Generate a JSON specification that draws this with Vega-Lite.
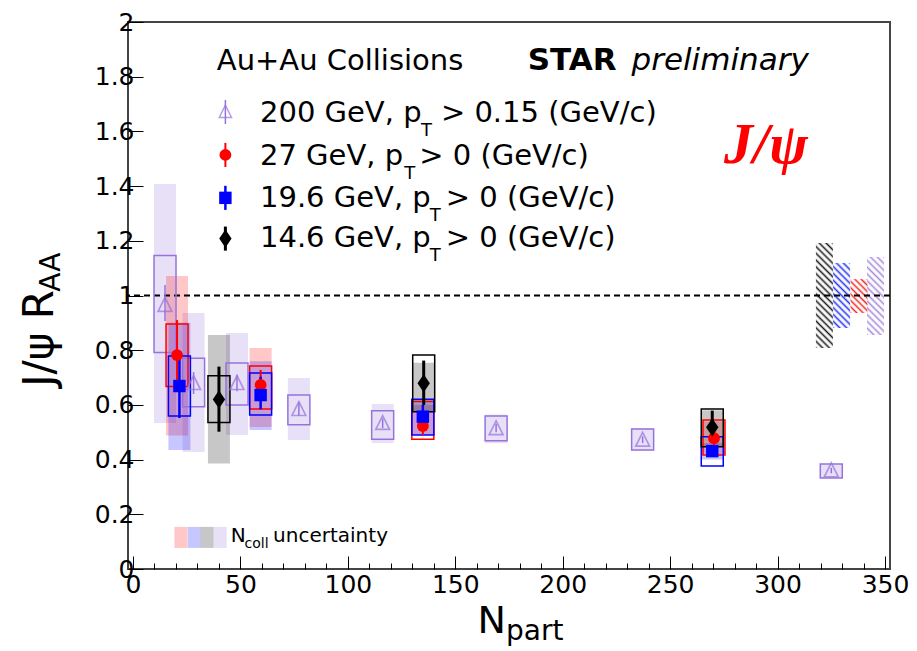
{
 "$schema": "https://vega.github.io/schema/vega-lite/v6.json",
 "width": 762, "height": 547,
 "autosize": {"type": "none"},
 "padding": {"left": 128, "top": 22, "right": 27, "bottom": 82},
 "background": "white",
 "config": {"view": {"stroke": "#444", "strokeWidth": 2}, "font": "DejaVu Sans", "axis": {"labelOverlap": false, "labelBound": false, "labelFlush": false}},
 "resolve": {"axis": {"x": "independent"}},
 "datasets": {
  "pts": [
   {"s":"200","x":14.9,"y":0.965,"elo":0.907,"ehi":1.038,"slo":0.792,"shi":1.146,"nlo":0.534,"nhi":1.408},
   {"s":"200","x":28.2,"y":0.679,"elo":0.64,"ehi":0.72,"slo":0.593,"shi":0.771,"nlo":0.428,"nhi":0.936},
   {"s":"200","x":48.4,"y":0.679,"elo":0.65,"ehi":0.71,"slo":0.6,"shi":0.753,"nlo":0.49,"nhi":0.863},
   {"s":"200","x":77.2,"y":0.584,"elo":0.56,"ehi":0.61,"slo":0.527,"shi":0.636,"nlo":0.472,"nhi":0.698},
   {"s":"200","x":116.2,"y":0.533,"elo":0.515,"ehi":0.55,"slo":0.474,"shi":0.579,"nlo":0.461,"nhi":0.603},
   {"s":"200","x":169.0,"y":0.514,"elo":0.5,"ehi":0.53,"slo":0.469,"shi":0.559,"nlo":0.46,"nhi":0.565},
   {"s":"200","x":237.2,"y":0.472,"elo":0.46,"ehi":0.485,"slo":0.435,"shi":0.512,"nlo":0.432,"nhi":0.515},
   {"s":"200","x":325.0,"y":0.36,"elo":0.35,"ehi":0.37,"slo":0.333,"shi":0.384,"nlo":0.333,"nhi":0.384},
   {"s":"27","x":20.5,"y":0.782,"elo":0.65,"ehi":0.91,"slo":0.667,"shi":0.896,"nlo":0.488,"nhi":1.071},
   {"s":"27","x":59.4,"y":0.673,"elo":0.62,"ehi":0.728,"slo":0.585,"shi":0.742,"nlo":0.519,"nhi":0.808},
   {"s":"27","x":134.9,"y":0.523,"elo":0.49,"ehi":0.56,"slo":0.474,"shi":0.612,"nlo":0.49,"nhi":0.6},
   {"s":"27","x":270.4,"y":0.478,"elo":0.45,"ehi":0.51,"slo":0.417,"shi":0.545,"nlo":0.42,"nhi":0.54},
   {"s":"19.6","x":21.6,"y":0.669,"elo":0.552,"ehi":0.782,"slo":0.559,"shi":0.779,"nlo":0.435,"nhi":0.9},
   {"s":"19.6","x":59.4,"y":0.636,"elo":0.584,"ehi":0.703,"slo":0.563,"shi":0.717,"nlo":0.508,"nhi":0.76},
   {"s":"19.6","x":134.9,"y":0.557,"elo":0.52,"ehi":0.6,"slo":0.49,"shi":0.621,"nlo":0.49,"nhi":0.62},
   {"s":"19.6","x":269.6,"y":0.431,"elo":0.41,"ehi":0.45,"slo":0.377,"shi":0.484,"nlo":0.4,"nhi":0.46},
   {"s":"14.6","x":40.0,"y":0.62,"elo":0.502,"ehi":0.74,"slo":0.536,"shi":0.707,"nlo":0.386,"nhi":0.856},
   {"s":"14.6","x":135.3,"y":0.679,"elo":0.6,"ehi":0.762,"slo":0.575,"shi":0.782,"nlo":0.575,"nhi":0.754},
   {"s":"14.6","x":269.6,"y":0.518,"elo":0.484,"ehi":0.579,"slo":0.447,"shi":0.585,"nlo":0.45,"nhi":0.58}
  ],
  "glob": [
   {"s":"14.6","x":321.8,"lo":0.808,"hi":1.192},
   {"s":"19.6","x":329.8,"lo":0.881,"hi":1.119},
   {"s":"27","x":337.9,"lo":0.936,"hi":1.06},
   {"s":"200","x":345.6,"lo":0.856,"hi":1.141}
  ],
  "leg": [
   {"s":"200","x":43.0,"y":1.671,"elo":1.627,"ehi":1.715},
   {"s":"27","x":43.0,"y":1.514,"elo":1.47,"ehi":1.558},
   {"s":"19.6","x":43.0,"y":1.357,"elo":1.313,"ehi":1.401},
   {"s":"14.6","x":43.0,"y":1.208,"elo":1.164,"ehi":1.252}
  ],
  "sw": [
   {"s":"27","x":22.3,"lo":0.077,"hi":0.154},
   {"s":"19.6","x":28.5,"lo":0.077,"hi":0.154},
   {"s":"14.6","x":34.5,"lo":0.077,"hi":0.154},
   {"s":"200","x":40.6,"lo":0.077,"hi":0.154}
  ]
 },
 "layer": [
  {
   "data": {"name": "pts"},
   "mark": {"type": "bar", "width": 22, "opacity": 0.22},
   "encoding": {
    "x": {"field": "x", "type": "quantitative",
     "scale": {"domain": [0, 350], "nice": false, "zero": false},
     "axis": {"orient": "bottom", "values": [0,50,100,150,200,250,300,350], "format": "d",
      "tickSize": -13, "tickColor": "black", "tickWidth": 1, "domain": false, "grid": false, "title": null,
      "labelFont": "DejaVu Sans", "labelFontSize": 25, "labelColor": "black", "labelPadding": 16,
      "labelOverlap": false, "labelFlush": false, "labelBound": false}},
    "y": {"field": "nlo", "type": "quantitative",
     "scale": {"domain": [0, 2], "nice": false, "zero": false},
     "axis": {"values": [0,0.05,0.1,0.15,0.2,0.25,0.3,0.35,0.4,0.45,0.5,0.55,0.6,0.65,0.7,0.75,0.8,0.85,0.9,0.95,1,1.05,1.1,1.15,1.2,1.25,1.3,1.35,1.4,1.45,1.5,1.55,1.6,1.65,1.7,1.75,1.8,1.85,1.9,1.95,2],
      "labelExpr": "abs(datum.value*5-round(datum.value*5))<0.001 ? format(datum.value, '~g') : ''",
      "tickSize": {"condition": {"test": "abs(datum.value*5-round(datum.value*5))<0.001", "value": -15}, "value": -7},
      "tickColor": "black", "tickWidth": 1, "domain": false, "grid": false, "title": null,
      "labelFont": "DejaVu Sans", "labelFontSize": 25, "labelColor": "black", "labelPadding": 9,
      "labelOverlap": false, "labelFlush": false, "labelBound": false}},
    "y2": {"field": "nhi"},
    "color": {"field": "s", "type": "nominal", "scale": {"domain": ["200","27","19.6","14.6"], "range": ["#9673dc","#ff0000","#0000ff","#000000"]}, "legend": null}
   }
  },
  {
   "data": {"name": "pts"},
   "mark": {"type": "point", "opacity": 0},
   "encoding": {
    "x": {"field": "x", "type": "quantitative",
     "axis": {"orient": "bottom", "values": [10,20,30,40,60,70,80,90,110,120,130,140,160,170,180,190,210,220,230,240,260,270,280,290,310,320,330,340],
      "labels": false, "tickSize": -6, "tickColor": "black", "tickWidth": 1, "domain": false, "grid": false, "title": null}},
    "y": {"field": "y", "type": "quantitative"}
   }
  },
  {
   "data": {"name": "sw"},
   "mark": {"type": "bar", "width": 13, "opacity": 0.22},
   "encoding": {
    "x": {"field": "x", "type": "quantitative", "axis": null},
    "y": {"field": "lo", "type": "quantitative"},
    "y2": {"field": "hi"},
    "color": {"field": "s", "type": "nominal", "legend": null}
   }
  },
  {
   "data": {"name": "glob"},
   "transform": [{"filter": "datum.s === '14.6'"}],
   "mark": {"type": "bar", "width": 17, "fill": {"gradient": "linear", "x1": 0, "y1": 1, "x2": 0.183, "y2": -0.131, "stops": [
    {"offset":0,"color":"#1a1a1a"},{"offset":0.0278,"color":"rgba(255,255,255,0)"},{"offset":0.0556,"color":"#1a1a1a"},{"offset":0.0833,"color":"rgba(255,255,255,0)"},{"offset":0.1111,"color":"#1a1a1a"},{"offset":0.1389,"color":"rgba(255,255,255,0)"},{"offset":0.1667,"color":"#1a1a1a"},{"offset":0.1944,"color":"rgba(255,255,255,0)"},{"offset":0.2222,"color":"#1a1a1a"},{"offset":0.25,"color":"rgba(255,255,255,0)"},{"offset":0.2778,"color":"#1a1a1a"},{"offset":0.3056,"color":"rgba(255,255,255,0)"},{"offset":0.3333,"color":"#1a1a1a"},{"offset":0.3611,"color":"rgba(255,255,255,0)"},{"offset":0.3889,"color":"#1a1a1a"},{"offset":0.4167,"color":"rgba(255,255,255,0)"},{"offset":0.4444,"color":"#1a1a1a"},{"offset":0.4722,"color":"rgba(255,255,255,0)"},{"offset":0.5,"color":"#1a1a1a"},{"offset":0.5278,"color":"rgba(255,255,255,0)"},{"offset":0.5556,"color":"#1a1a1a"},{"offset":0.5833,"color":"rgba(255,255,255,0)"},{"offset":0.6111,"color":"#1a1a1a"},{"offset":0.6389,"color":"rgba(255,255,255,0)"},{"offset":0.6667,"color":"#1a1a1a"},{"offset":0.6944,"color":"rgba(255,255,255,0)"},{"offset":0.7222,"color":"#1a1a1a"},{"offset":0.75,"color":"rgba(255,255,255,0)"},{"offset":0.7778,"color":"#1a1a1a"},{"offset":0.8056,"color":"rgba(255,255,255,0)"},{"offset":0.8333,"color":"#1a1a1a"},{"offset":0.8611,"color":"rgba(255,255,255,0)"},{"offset":0.8889,"color":"#1a1a1a"},{"offset":0.9167,"color":"rgba(255,255,255,0)"},{"offset":0.9444,"color":"#1a1a1a"},{"offset":0.9722,"color":"rgba(255,255,255,0)"},{"offset":1,"color":"#1a1a1a"}]}},
   "encoding": {"x": {"field": "x", "type": "quantitative", "axis": null}, "y": {"field": "lo", "type": "quantitative"}, "y2": {"field": "hi"}}
  },
  {
   "data": {"name": "glob"},
   "transform": [{"filter": "datum.s === '19.6'"}],
   "mark": {"type": "bar", "width": 17, "fill": {"gradient": "linear", "x1": 0, "y1": 1, "x2": 0.309, "y2": -0.181, "stops": [
    {"offset":0,"color":"#2233ee"},{"offset":0.0417,"color":"rgba(255,255,255,0)"},{"offset":0.0833,"color":"#2233ee"},{"offset":0.125,"color":"rgba(255,255,255,0)"},{"offset":0.1667,"color":"#2233ee"},{"offset":0.2083,"color":"rgba(255,255,255,0)"},{"offset":0.25,"color":"#2233ee"},{"offset":0.2917,"color":"rgba(255,255,255,0)"},{"offset":0.3333,"color":"#2233ee"},{"offset":0.375,"color":"rgba(255,255,255,0)"},{"offset":0.4167,"color":"#2233ee"},{"offset":0.4583,"color":"rgba(255,255,255,0)"},{"offset":0.5,"color":"#2233ee"},{"offset":0.5417,"color":"rgba(255,255,255,0)"},{"offset":0.5833,"color":"#2233ee"},{"offset":0.625,"color":"rgba(255,255,255,0)"},{"offset":0.6667,"color":"#2233ee"},{"offset":0.7083,"color":"rgba(255,255,255,0)"},{"offset":0.75,"color":"#2233ee"},{"offset":0.7917,"color":"rgba(255,255,255,0)"},{"offset":0.8333,"color":"#2233ee"},{"offset":0.875,"color":"rgba(255,255,255,0)"},{"offset":0.9167,"color":"#2233ee"},{"offset":0.9583,"color":"rgba(255,255,255,0)"},{"offset":1,"color":"#2233ee"}]}},
   "encoding": {"x": {"field": "x", "type": "quantitative", "axis": null}, "y": {"field": "lo", "type": "quantitative"}, "y2": {"field": "hi"}}
  },
  {
   "data": {"name": "glob"},
   "transform": [{"filter": "datum.s === '27'"}],
   "mark": {"type": "bar", "width": 17, "fill": {"gradient": "linear", "x1": 0, "y1": 1, "x2": 0.6, "y2": -0.2, "stops": [
    {"offset":0,"color":"#ee2222"},{"offset":0.0625,"color":"rgba(255,255,255,0)"},{"offset":0.125,"color":"#ee2222"},{"offset":0.1875,"color":"rgba(255,255,255,0)"},{"offset":0.25,"color":"#ee2222"},{"offset":0.3125,"color":"rgba(255,255,255,0)"},{"offset":0.375,"color":"#ee2222"},{"offset":0.4375,"color":"rgba(255,255,255,0)"},{"offset":0.5,"color":"#ee2222"},{"offset":0.5625,"color":"rgba(255,255,255,0)"},{"offset":0.625,"color":"#ee2222"},{"offset":0.6875,"color":"rgba(255,255,255,0)"},{"offset":0.75,"color":"#ee2222"},{"offset":0.8125,"color":"rgba(255,255,255,0)"},{"offset":0.875,"color":"#ee2222"},{"offset":0.9375,"color":"rgba(255,255,255,0)"},{"offset":1,"color":"#ee2222"}]}},
   "encoding": {"x": {"field": "x", "type": "quantitative", "axis": null}, "y": {"field": "lo", "type": "quantitative"}, "y2": {"field": "hi"}}
  },
  {
   "data": {"name": "glob"},
   "transform": [{"filter": "datum.s === '200'"}],
   "mark": {"type": "bar", "width": 17, "fill": {"gradient": "linear", "x1": 0, "y1": 1, "x2": 0.253, "y2": -0.163, "stops": [
    {"offset":0,"color":"#a68ad9"},{"offset":0.0357,"color":"rgba(255,255,255,0)"},{"offset":0.0714,"color":"#a68ad9"},{"offset":0.1071,"color":"rgba(255,255,255,0)"},{"offset":0.1429,"color":"#a68ad9"},{"offset":0.1786,"color":"rgba(255,255,255,0)"},{"offset":0.2143,"color":"#a68ad9"},{"offset":0.25,"color":"rgba(255,255,255,0)"},{"offset":0.2857,"color":"#a68ad9"},{"offset":0.3214,"color":"rgba(255,255,255,0)"},{"offset":0.3571,"color":"#a68ad9"},{"offset":0.3929,"color":"rgba(255,255,255,0)"},{"offset":0.4286,"color":"#a68ad9"},{"offset":0.4643,"color":"rgba(255,255,255,0)"},{"offset":0.5,"color":"#a68ad9"},{"offset":0.5357,"color":"rgba(255,255,255,0)"},{"offset":0.5714,"color":"#a68ad9"},{"offset":0.6071,"color":"rgba(255,255,255,0)"},{"offset":0.6429,"color":"#a68ad9"},{"offset":0.6786,"color":"rgba(255,255,255,0)"},{"offset":0.7143,"color":"#a68ad9"},{"offset":0.75,"color":"rgba(255,255,255,0)"},{"offset":0.7857,"color":"#a68ad9"},{"offset":0.8214,"color":"rgba(255,255,255,0)"},{"offset":0.8571,"color":"#a68ad9"},{"offset":0.8929,"color":"rgba(255,255,255,0)"},{"offset":0.9286,"color":"#a68ad9"},{"offset":0.9643,"color":"rgba(255,255,255,0)"},{"offset":1,"color":"#a68ad9"}]}},
   "encoding": {"x": {"field": "x", "type": "quantitative", "axis": null}, "y": {"field": "lo", "type": "quantitative"}, "y2": {"field": "hi"}}
  },
  {
   "data": {"values": [{}]},
   "mark": {"type": "rule", "strokeDash": [6, 4], "strokeWidth": 2, "color": "black"},
   "encoding": {"y": {"datum": 1, "type": "quantitative"}}
  },
  {
   "data": {"name": "pts"},
   "mark": {"type": "bar", "width": 22, "filled": false, "strokeWidth": 1.5},
   "encoding": {
    "x": {"field": "x", "type": "quantitative", "axis": null},
    "y": {"field": "slo", "type": "quantitative"},
    "y2": {"field": "shi"},
    "color": {"field": "s", "type": "nominal", "legend": null}
   }
  },
  {
   "data": {"name": "pts"},
   "mark": {"type": "rule"},
   "encoding": {
    "x": {"field": "x", "type": "quantitative", "axis": null},
    "y": {"field": "elo", "type": "quantitative"},
    "y2": {"field": "ehi"},
    "color": {"field": "s", "type": "nominal", "legend": null},
    "strokeWidth": {"field": "s", "type": "nominal", "scale": {"domain": ["200","27","19.6","14.6"], "range": [1.5, 3, 3, 3]}, "legend": null}
   }
  },
  {
   "data": {"name": "leg"},
   "mark": {"type": "rule"},
   "encoding": {
    "x": {"field": "x", "type": "quantitative", "axis": null},
    "y": {"field": "elo", "type": "quantitative"},
    "y2": {"field": "ehi"},
    "color": {"field": "s", "type": "nominal", "legend": null},
    "strokeWidth": {"field": "s", "type": "nominal", "legend": null}
   }
  },
  {
   "data": {"name": "pts"},
   "transform": [{"filter": "datum.s === '200'"}],
   "mark": {"type": "point", "shape": "M0,-1.1L1,0.9L-1,0.9Z", "filled": false, "strokeWidth": 1.7, "size": 190},
   "encoding": {
    "x": {"field": "x", "type": "quantitative", "axis": null},
    "y": {"field": "y", "type": "quantitative"},
    "color": {"field": "s", "type": "nominal", "legend": null}
   }
  },
  {
   "data": {"name": "leg"},
   "transform": [{"filter": "datum.s === '200'"}],
   "mark": {"type": "point", "shape": "M0,-1.1L1,0.9L-1,0.9Z", "filled": false, "strokeWidth": 1.5, "size": 150},
   "encoding": {
    "x": {"field": "x", "type": "quantitative", "axis": null},
    "y": {"field": "y", "type": "quantitative"},
    "color": {"field": "s", "type": "nominal", "legend": null}
   }
  },
  {
   "data": {"name": "pts"},
   "transform": [{"filter": "datum.s !== '200'"}],
   "mark": {"type": "point", "filled": true, "opacity": 1},
   "encoding": {
    "x": {"field": "x", "type": "quantitative", "axis": null},
    "y": {"field": "y", "type": "quantitative"},
    "color": {"field": "s", "type": "nominal", "legend": null},
    "shape": {"field": "s", "type": "nominal", "scale": {"domain": ["27","19.6","14.6"], "range": ["circle","square","M0,-1.4L0.95,0L0,1.4L-0.95,0Z"]}, "legend": null},
    "size": {"field": "s", "type": "nominal", "scale": {"domain": ["27","19.6","14.6"], "range": [140, 169, 160]}, "legend": null}
   }
  },
  {
   "data": {"name": "leg"},
   "transform": [{"filter": "datum.s !== '200'"}],
   "mark": {"type": "point", "filled": true, "opacity": 1},
   "encoding": {
    "x": {"field": "x", "type": "quantitative", "axis": null},
    "y": {"field": "y", "type": "quantitative"},
    "color": {"field": "s", "type": "nominal", "legend": null},
    "shape": {"field": "s", "type": "nominal", "legend": null},
    "size": {"field": "s", "type": "nominal", "legend": null}
   }
  },
  {
   "data": {"values": [
    {"t":"Au+Au Collisions","x":39.0,"y":1.824},
    {"t":"200 GeV, p","x":59.1,"y":1.636},
    {"t":"> 0.15 (GeV/c)","x":143.3,"y":1.636},
    {"t":"27 GeV, p","x":59.1,"y":1.477},
    {"t":"> 0 (GeV/c)","x":133.2,"y":1.477},
    {"t":"19.6 GeV, p","x":59.1,"y":1.324},
    {"t":"> 0 (GeV/c)","x":145.6,"y":1.324},
    {"t":"14.6 GeV, p","x":59.1,"y":1.177},
    {"t":"> 0 (GeV/c)","x":145.6,"y":1.177}
   ]},
   "mark": {"type": "text", "align": "left", "baseline": "alphabetic", "font": "DejaVu Sans", "fontSize": 29, "color": "black"},
   "encoding": {"x": {"field": "x", "type": "quantitative", "axis": null}, "y": {"field": "y", "type": "quantitative"}, "text": {"field": "t"}}
  },
  {
   "data": {"values": [
    {"t":"T","x":134.0,"y":1.584},
    {"t":"T","x":126.2,"y":1.426},
    {"t":"T","x":138.1,"y":1.272},
    {"t":"T","x":138.1,"y":1.126}
   ]},
   "mark": {"type": "text", "align": "left", "baseline": "alphabetic", "font": "DejaVu Sans", "fontSize": 18, "color": "black"},
   "encoding": {"x": {"field": "x", "type": "quantitative", "axis": null}, "y": {"field": "y", "type": "quantitative"}, "text": {"field": "t"}}
  },
  {
   "data": {"values": [{"t":"STAR","x":183.7,"y":1.824}]},
   "mark": {"type": "text", "align": "left", "baseline": "alphabetic", "font": "DejaVu Sans", "fontSize": 31, "fontWeight": "bold", "color": "black"},
   "encoding": {"x": {"field": "x", "type": "quantitative", "axis": null}, "y": {"field": "y", "type": "quantitative"}, "text": {"field": "t"}}
  },
  {
   "data": {"values": [{"t":"preliminary","x":232.0,"y":1.824}]},
   "mark": {"type": "text", "align": "left", "baseline": "alphabetic", "font": "DejaVu Sans", "fontSize": 31, "fontStyle": "italic", "color": "black"},
   "encoding": {"x": {"field": "x", "type": "quantitative", "axis": null}, "y": {"field": "y", "type": "quantitative"}, "text": {"field": "t"}}
  },
  {
   "data": {"values": [{"t":"J/ψ","x":275.1,"y":1.484}]},
   "mark": {"type": "text", "align": "left", "baseline": "alphabetic", "font": "Liberation Serif", "fontSize": 58, "fontWeight": "bold", "fontStyle": "italic", "color": "#ff0000"},
   "encoding": {"x": {"field": "x", "type": "quantitative", "axis": null}, "y": {"field": "y", "type": "quantitative"}, "text": {"field": "t"}}
  },
  {
   "data": {"values": [{"t":"N","x":45.5,"y":0.099},{"t":"uncertainty","x":65.2,"y":0.099}]},
   "mark": {"type": "text", "align": "left", "baseline": "alphabetic", "font": "DejaVu Sans", "fontSize": 20, "color": "black"},
   "encoding": {"x": {"field": "x", "type": "quantitative", "axis": null}, "y": {"field": "y", "type": "quantitative"}, "text": {"field": "t"}}
  },
  {
   "data": {"values": [{"t":"coll","x":51.9,"y":0.077}]},
   "mark": {"type": "text", "align": "left", "baseline": "alphabetic", "font": "DejaVu Sans", "fontSize": 14, "color": "black"},
   "encoding": {"x": {"field": "x", "type": "quantitative", "axis": null}, "y": {"field": "y", "type": "quantitative"}, "text": {"field": "t"}}
  },
  {
   "data": {"values": [{"t":"N","x":160.3,"y":-0.234}]},
   "mark": {"type": "text", "align": "left", "baseline": "alphabetic", "font": "DejaVu Sans", "fontSize": 38, "color": "black"},
   "encoding": {"x": {"field": "x", "type": "quantitative", "axis": null}, "y": {"field": "y", "type": "quantitative"}, "text": {"field": "t"}}
  },
  {
   "data": {"values": [{"t":"part","x":173.6,"y":-0.26}]},
   "mark": {"type": "text", "align": "left", "baseline": "alphabetic", "font": "DejaVu Sans", "fontSize": 28, "color": "black"},
   "encoding": {"x": {"field": "x", "type": "quantitative", "axis": null}, "y": {"field": "y", "type": "quantitative"}, "text": {"field": "t"}}
  },
  {
   "data": {"values": [{"t":"J/ψ R","x":-37.2,"y":1.02}]},
   "mark": {"type": "text", "align": "right", "baseline": "alphabetic", "angle": 270, "font": "DejaVu Sans", "fontSize": 42, "color": "black"},
   "encoding": {"x": {"field": "x", "type": "quantitative", "axis": null}, "y": {"field": "y", "type": "quantitative"}, "text": {"field": "t"}}
  },
  {
   "data": {"values": [{"t":"AA","x":-34.0,"y":1.014}]},
   "mark": {"type": "text", "align": "left", "baseline": "alphabetic", "angle": 270, "font": "DejaVu Sans", "fontSize": 28, "color": "black"},
   "encoding": {"x": {"field": "x", "type": "quantitative", "axis": null}, "y": {"field": "y", "type": "quantitative"}, "text": {"field": "t"}}
  }
 ]
}
